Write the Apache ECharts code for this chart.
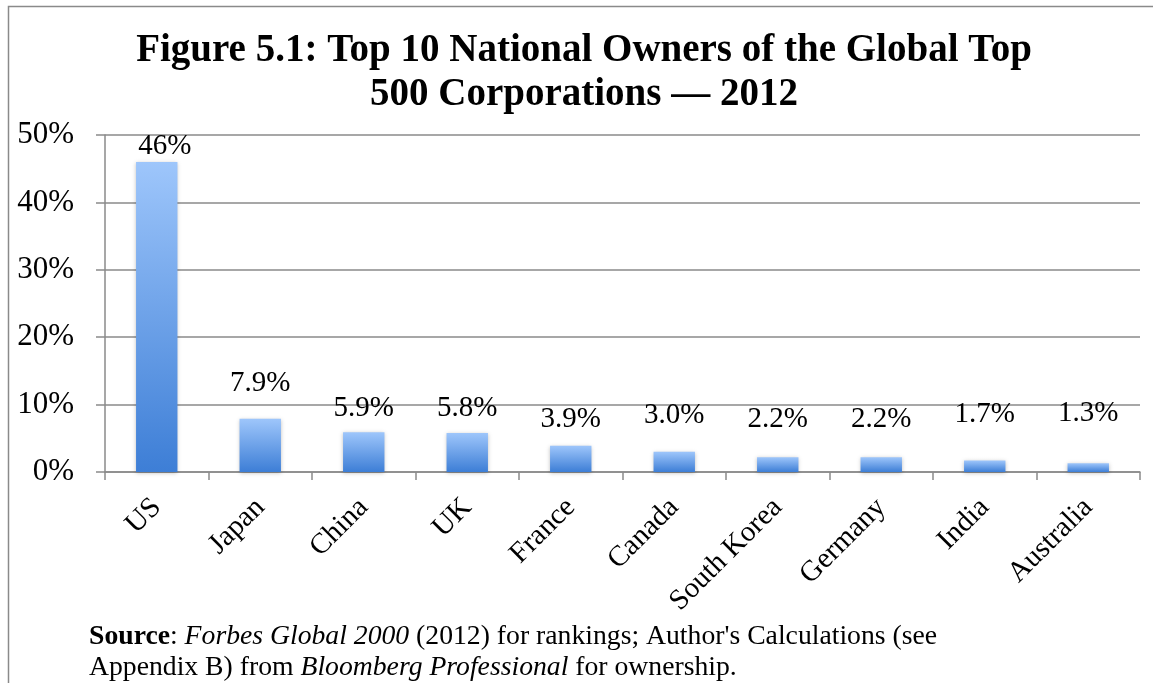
<!DOCTYPE html>
<html>
<head>
<meta charset="utf-8">
<script src="https://cdn.jsdelivr.net/npm/echarts@6/dist/echarts.min.js"></script>
<style>html,body{margin:0;padding:0;background:#fff}#c{width:1153px;height:683px}</style>
</head>
<body>
<div id="c"></div>
<script>
const titleLines = ['Figure 5.1: Top 10 National Owners of the Global Top', '500 Corporations \u2014 2012'];
const categories = ['US', 'Japan', 'China', 'UK', 'France', 'Canada', 'South Korea', 'Germany', 'India', 'Australia'];
const shares = [46, 7.9, 5.9, 5.8, 3.9, 3.0, 2.2, 2.2, 1.7, 1.3];
const shareLabels = ['46%', '7.9%', '5.9%', '5.8%', '3.9%', '3.0%', '2.2%', '2.2%', '1.7%', '1.3%'];
const yTicks = [0, 10, 20, 30, 40, 50];

const FONT = '"Liberation Serif", serif';
// per-bar label placement, matching the hand-placed labels of the original
const labelGap = [1, 21, 9, 10, 12, 22, 23, 23, 32, 35];
const labelShiftX = [8, 0, 0, 0, 0, 0, 0, 0, 0, 0];

const chart = echarts.init(document.getElementById('c'), null, {renderer: 'canvas'});
const option = {
  backgroundColor: '#fff',
  animation: false,
  grid: {left: 105, right: 13, top: 135, bottom: 211},
  xAxis: {
    type: 'category',
    data: categories,
    axisLine: {lineStyle: {color: '#8a8a8a', width: 1.5}},
    axisTick: {show: true, alignWithLabel: false, length: 8, lineStyle: {color: '#8a8a8a', width: 1.5}},
    axisLabel: {rotate: 45, margin: 31, fontFamily: FONT, fontSize: 29, color: '#000', interval: 0}
  },
  yAxis: {
    type: 'value',
    min: yTicks[0],
    max: yTicks[yTicks.length - 1],
    interval: yTicks[1] - yTicks[0],
    axisLine: {show: true, lineStyle: {color: '#8a8a8a', width: 1.5}},
    axisTick: {show: true, length: 9, lineStyle: {color: '#8a8a8a', width: 1.5}},
    splitLine: {lineStyle: {color: '#8a8a8a', width: 1.5}},
    axisLabel: {formatter: '{value}%', margin: 31, fontFamily: FONT, fontSize: 31, color: '#000'}
  },
  series: [{
    type: 'bar',
    barWidth: '40%',
    data: shares.map((v, i) => ({
      value: v,
      label: {distance: labelGap[i], offset: [labelShiftX[i], 0], formatter: shareLabels[i]}
    })),
    itemStyle: {
      color: new echarts.graphic.LinearGradient(0, 0, 0, 1, [
        {offset: 0, color: '#9ec6fb'},
        {offset: 1, color: '#3d7ed6'}
      ]),
      shadowBlur: 4,
      shadowColor: 'rgba(0,0,0,0.25)',
      shadowOffsetY: 1
    },
    label: {show: true, position: 'top', fontFamily: FONT, fontSize: 29, color: '#000'}
  }],
  graphic: [
    {type: 'rect', shape: {x: 8.5, y: 6.5, width: 1200, height: 720}, style: {fill: null, stroke: '#8a8a8a', lineWidth: 1.5}, silent: true},
    {
      type: 'text', x: 584, y: 29,
      style: {
        text: titleLines.join('\n'),
        textAlign: 'center',
        fontFamily: FONT, fontWeight: 'bold', fontSize: 39, lineHeight: 44, fill: '#000'
      }
    },
    {
      type: 'text', left: 89, top: 621,
      style: {
        text: '{b|Source}: {i|Forbes Global 2000} (2012) for rankings; Author\'s Calculations (see\nAppendix B) from {i|Bloomberg Professional} for ownership.',
        rich: {
          b: {fontFamily: FONT, fontSize: 27.7, fontWeight: 'bold', fill: '#000', lineHeight: 31},
          i: {fontFamily: FONT, fontSize: 27.7, fontStyle: 'italic', fill: '#000', lineHeight: 31}
        },
        fontFamily: FONT, fontSize: 27.7, lineHeight: 31, fill: '#000'
      }
    }
  ]
};
chart.setOption(option);
</script>
</body>
</html>
